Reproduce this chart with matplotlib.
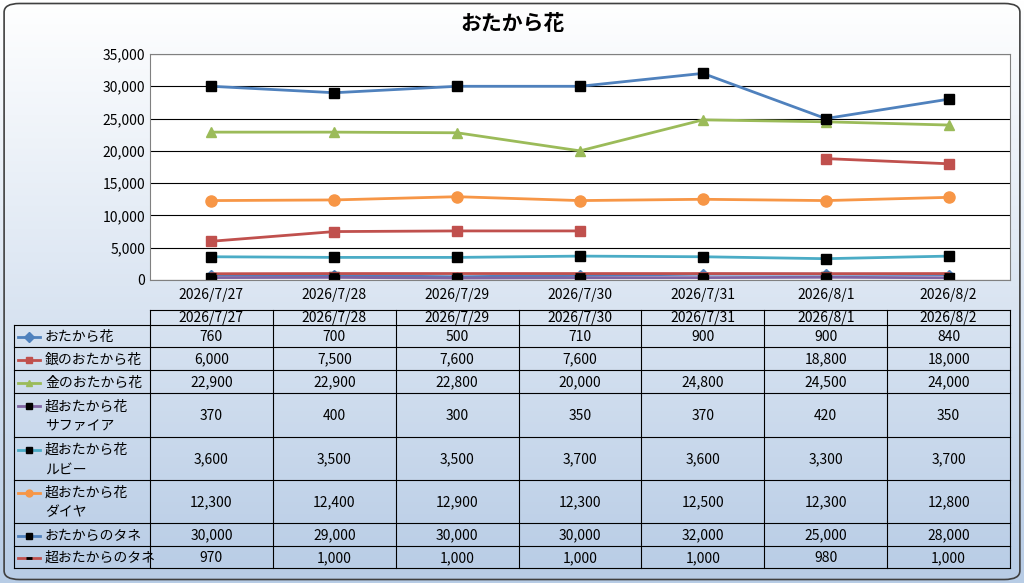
import matplotlib
matplotlib.use("Agg")
import matplotlib.pyplot as plt
import numpy as np
from matplotlib.patches import FancyBboxPatch

plt.rcParams['font.family'] = ['Noto Sans CJK JP', 'DejaVu Sans']

dates = ["2026/7/27", "2026/7/28", "2026/7/29", "2026/7/30", "2026/7/31", "2026/8/1", "2026/8/2"]
names = ["おたから花", "銀のおたから花", "金のおたから花", "超おたから花\nサファイア",
         "超おたから花\nルビー", "超おたから花\nダイヤ", "おたからのタネ", "超おたからのタネ"]
otakara = [760, 700, 500, 710, 900, 900, 840]
gin = [6000, 7500, 7600, 7600, None, 18800, 18000]
kin = [22900, 22900, 22800, 20000, 24800, 24500, 24000]
sapphire = [370, 400, 300, 350, 370, 420, 350]
ruby = [3600, 3500, 3500, 3700, 3600, 3300, 3700]
diamond = [12300, 12400, 12900, 12300, 12500, 12300, 12800]
tane = [30000, 29000, 30000, 30000, 32000, 25000, 28000]
chotane = [970, 1000, 1000, 1000, 1000, 980, 1000]
series = [otakara, gin, kin, sapphire, ruby, diamond, tane, chotane]

styles = [
    dict(color='#4f81bd', marker='D', mfc='#4f81bd', mec='#4f81bd', ms=5),
    dict(color='#c0504d', marker='s', mfc='#c0504d', mec='#c0504d', ms=7),
    dict(color='#9bbb59', marker='^', mfc='#9bbb59', mec='#9bbb59', ms=7),
    dict(color='#8064a2', marker='s', mfc='black', mec='black', ms=7),
    dict(color='#4bacc6', marker='s', mfc='black', mec='black', ms=7),
    dict(color='#f79646', marker='o', mfc='#f79646', mec='#f79646', ms=8),
    dict(color='#4f81bd', marker='s', mfc='black', mec='black', ms=7),
    dict(color='#c0504d', marker='_', mfc='black', mec='black', ms=7, mew=2),
]

W, H = 1024, 583
fig = plt.figure(figsize=(W/100, H/100), dpi=100)

def px(x0, y0, x1, y1):
    return [x0/W, 1-y1/H, (x1-x0)/W, (y1-y0)/H]

bg = fig.add_axes([0, 0, 1, 1])
grad = np.linspace(0, 1, 256)[:, None]
c0 = np.array([1.0, 1.0, 1.0]); c1 = np.array([0.72, 0.80, 0.90])
img = c0 + (c1 - c0) * grad[..., None]
img = np.repeat(img, 2, axis=1)
bg.imshow(img, extent=[0, 1, 0, 1], aspect='auto', origin='upper')
bg.add_patch(FancyBboxPatch((0.004, 0.006), 0.992, 0.988, boxstyle="round,pad=0,rounding_size=0.015",
                            fill=False, ec='#404040', lw=1.2, transform=bg.transAxes))
bg.set_xlim(0, 1); bg.set_ylim(0, 1); bg.axis('off')
fig.text(0.5, 1-24/H, "おたから花", ha='center', va='center', fontsize=15, fontweight='bold')

ax = fig.add_axes(px(150, 54, 1010, 280))
ax.set_facecolor('white')
x = np.arange(len(dates))
for s, st in zip(series, styles):
    y = np.array([np.nan if v is None else v for v in s], dtype=float)
    ax.plot(x, y, lw=2, **st)
ax.set_xlim(-0.5, len(dates)-0.5)
ax.set_ylim(0, 35000)
ax.set_yticks(range(0, 35001, 5000))
ax.set_yticklabels([f"{v:,}" for v in range(0, 35001, 5000)], fontsize=10)
ax.grid(axis='y', color='black', lw=0.8)
ax.set_axisbelow(True)
ax.set_xticks(x)
ax.set_xticklabels(dates, fontsize=10)
ax.tick_params(axis='x', length=0, pad=6)
ax.tick_params(axis='y', length=0)
for sp in ax.spines.values():
    sp.set_color('#808080')

colx = [14, 150] + [150 + (1010-150)/7*(i+1) for i in range(7)]
rowy = [310, 325, 347, 370, 393, 437, 480, 523, 546, 568]
tab = fig.add_axes(px(0, 0, W, H))
tab.set_xlim(0, W); tab.set_ylim(H, 0); tab.axis('off')
for yy in rowy[1:]:
    tab.plot([14, 1010], [yy, yy], color='black', lw=0.8)
tab.plot([150, 1010], [310, 310], color='black', lw=0.8)
for i, xx in enumerate(colx):
    tab.plot([xx, xx], [310 if i > 0 else 325, 568], color='black', lw=0.8)
for j, d in enumerate(dates):
    tab.text((colx[j+1]+colx[j+2])/2, 318, d, ha='center', va='center', fontsize=10)
for r, (nm, s, st) in enumerate(zip(names, series, styles)):
    yc = (rowy[r+1]+rowy[r+2])/2 + 1
    ly = yc if '\n' not in nm else yc-10
    tab.plot([18, 40], [ly, ly], color=st['color'], lw=2)
    tab.plot([29], [ly], marker=st['marker'], mfc=st['mfc'], mec=st['mec'], ms=5,
             mew=st.get('mew', 1), ls='none')
    tab.text(45, yc, nm, ha='left', va='center', fontsize=10, linespacing=1.5)
    for j, v in enumerate(s):
        if v is not None:
            tab.text((colx[j+1]+colx[j+2])/2, yc, f"{v:,}", ha='center', va='center', fontsize=10)

fig.savefig("out.png", dpi=100)
